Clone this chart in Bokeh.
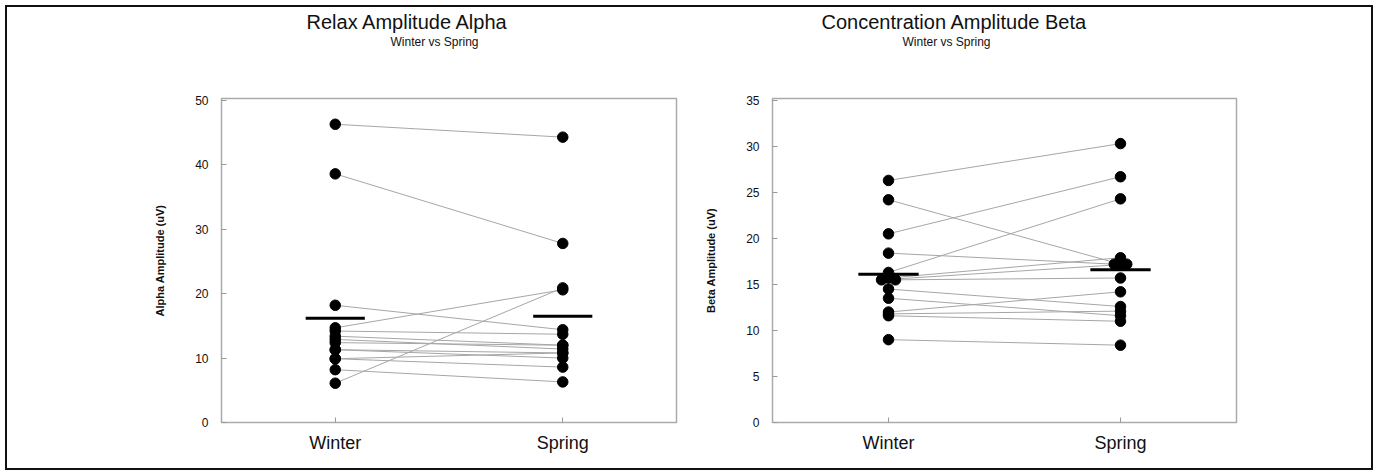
from bokeh.plotting import figure
from bokeh.layouts import row
from bokeh.models import FixedTicker, ColumnDataSource, Title
from bokeh.embed import file_html
from bokeh.resources import INLINE

# ---------------- data ----------------
categories = ["Winter", "Spring"]

alpha_winter = [46.3, 38.6, 18.2, 14.7, 6.1, 14.2, 13.4, 12.9, 12.4, 11.3, 11.3, 9.9, 9.9, 8.2]
alpha_spring = [44.3, 27.8, 14.4, 20.6, 20.9, 13.7, 12.0, 11.4, 12.0, 10.8, 10.0, 10.8, 8.6, 6.3]
alpha_means = [16.2, 16.5]
alpha_ticks = [0, 10, 20, 30, 40, 50]

beta_winter = [26.3, 24.2, 20.5, 18.4, 16.3, 15.7, 15.5, 15.5, 14.5, 13.5, 12.0, 11.8, 11.6, 9.0]
beta_spring = [30.3, 17.2, 26.7, 17.2, 24.3, 17.9, 17.2, 15.7, 12.6, 11.6, 14.2, 12.1, 11.0, 8.4]
beta_means = [16.1, 16.6]
beta_ticks = [0, 5, 10, 15, 20, 25, 30, 35]
# small sideways dodge (category units) for overlapping points
beta_winter_dodge = [0, 0, 0, 0, 0, 0, -0.03, 0.03, 0, 0, 0, 0, 0, 0]
beta_spring_dodge = [0, 0, 0, -0.027, 0, 0, 0.027, 0, 0, 0, 0, 0, 0, 0]

subtitle = "Winter vs Spring"
FONT = "Liberation Sans"


def make_panel(title, ylabel, winter, spring, means, ticks, ytop,
               wdodge, sdodge, fw, fh, bl, br, bt, bb, tdx, sdx):
    p = figure(output_backend="svg", toolbar_location=None,
               frame_width=fw, frame_height=fh,
               min_border_left=bl, min_border_right=br,
               min_border_top=bt, min_border_bottom=bb,
               x_range=(-0.5, 1.5), y_range=(0, ytop),
               background_fill_color="white", border_fill_color="white")
    p.grid.visible = False
    p.outline_line_color = "#aaaaaa"
    p.outline_line_width = 1.5

    # axes
    xa = p.xaxis[0]
    xa.ticker = FixedTicker(ticks=list(range(len(categories))))
    xa.major_label_overrides = {i: c for i, c in enumerate(categories)}
    ya = p.yaxis[0]
    ya.ticker = FixedTicker(ticks=ticks)
    for ax in (xa, ya):
        ax.axis_line_color = None
        ax.major_tick_in = 5
        ax.major_tick_out = 0
        ax.major_tick_line_color = "#999999"
        ax.minor_tick_line_color = None
        ax.major_label_text_font = FONT
        ax.major_label_text_color = "#111111"
    xa.major_label_text_font_size = "18px"
    xa.major_label_standoff = 10
    ya.major_label_text_font_size = "12px"
    ya.major_label_standoff = 13
    ya.axis_label = ylabel
    ya.axis_label_text_font = FONT
    ya.axis_label_text_font_size = "11px"
    ya.axis_label_text_font_style = "bold"
    ya.axis_label_text_color = "#111111"
    ya.axis_label_standoff = 26

    # paired lines
    xs = [[0 + wd, 1 + sd] for wd, sd in zip(wdodge, sdodge)]
    ys = [[w, s] for w, s in zip(winter, spring)]
    p.multi_line(xs, ys, line_color="#a6a6a6", line_width=1)

    # points
    src = ColumnDataSource(dict(
        x=[0 + d for d in wdodge] + [1 + d for d in sdodge],
        y=list(winter) + list(spring)))
    p.scatter("x", "y", source=src, size=10.5, fill_color="black", line_color="black")

    # mean bars
    mx = list(range(len(categories)))
    p.segment(x0=[m - 0.13 for m in mx], x1=[m + 0.13 for m in mx],
              y0=means, y1=means, line_color="black", line_width=3)

    # titles stacked above the frame: spacer, subtitle, main title
    p.add_layout(Title(text=" ", text_font_size="1px", standoff=47), "above")
    p.add_layout(Title(text=subtitle, align="left", offset=sdx, text_font=FONT,
                       text_font_size="12px", text_font_style="normal",
                       text_color="#111111", standoff=0), "above")
    p.add_layout(Title(text=title, align="left", offset=tdx, text_font=FONT,
                       text_font_size="20px", text_font_style="normal",
                       text_color="#111111", standoff=0), "above")
    return p


p1 = make_panel("Relax Amplitude Alpha", "Alpha Amplitude (uV)",
                alpha_winter, alpha_spring, alpha_means, alpha_ticks, 50.3,
                [0] * len(alpha_winter), [0] * len(alpha_spring),
                455, 324, 214, 21, 91, 46, 85, 169)
p2 = make_panel("Concentration Amplitude Beta", "Beta Amplitude (uV)",
                beta_winter, beta_spring, beta_means, beta_ticks, 35.2,
                beta_winter_dodge, beta_spring_dodge,
                464, 324, 75, 135, 91, 46, 49, 130)

layout = row(p1, p2, styles={"border": "2px solid #111111",
                             "margin-left": "5px", "margin-top": "5px"})

open("out.html", "w").write(file_html(layout, INLINE))
